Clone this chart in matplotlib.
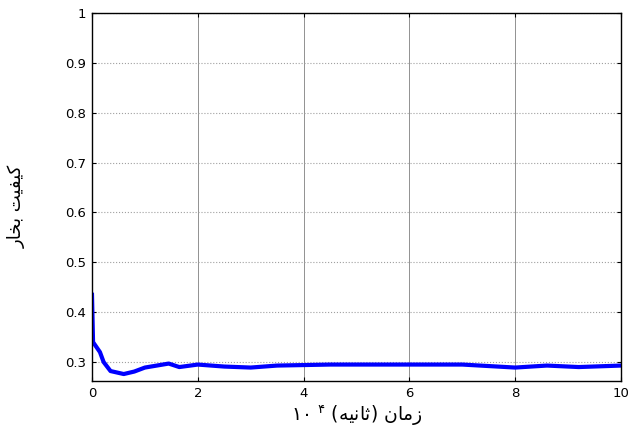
import matplotlib
matplotlib.use("Agg")
import matplotlib.pyplot as plt

# time (x 10^4 s) and vapour quality
time_vals = [0, 0.02, 0.15, 0.22, 0.35, 0.6, 0.8, 1.0, 1.45, 1.65, 2.0, 2.5, 3.0,
             3.5, 4.5, 5.5, 7.0, 8.0, 8.6, 9.2, 10]
quality = [0.435, 0.34, 0.32, 0.30, 0.282, 0.276, 0.281, 0.289, 0.297, 0.290, 0.295,
           0.291, 0.289, 0.293, 0.295, 0.295, 0.295, 0.289, 0.293, 0.290, 0.293]
xticks = [0, 2, 4, 6, 8, 10]
yticks = [0.3, 0.4, 0.5, 0.6, 0.7, 0.8, 0.9, 1.0]
ytick_labels = ["0.3", "0.4", "0.5", "0.6", "0.7", "0.8", "0.9", "1"]

# persian labels written in presentation forms, visual order (no shaping in mpl)
ylabel_txt = "\uFEAD\uFE8E\uFEA8\uFE91 \uFE96\uFBFF\uFED4\uFBFF\uFB90"
xlabel_txt = "\u06F1\u06F0 $^{\\mathregular{\u06F4}}$ (\uFEEA\uFBFF\uFEE7\uFE8E\uFE9B) \uFEE5\uFE8E\uFEE3\uFEAF"

plt.rcParams['font.family'] = ['DejaVu Sans']

fig = plt.figure(figsize=(6.31, 4.36), dpi=100)
ax = fig.add_axes([0.1458, 0.1261, 0.8384, 0.8441])

ax.plot(time_vals, quality, color=(0, 0, 1), lw=3, solid_joinstyle='round')

ax.set_xlim(0, 10)
ax.set_ylim(0.262, 1.0)
ax.set_xticks(xticks)
ax.set_yticks(yticks)
ax.set_yticklabels(ytick_labels)
ax.tick_params(direction='in', length=3, width=0.8, labelsize=9.5,
               top=True, right=True, pad=4)

# MATLAB-ish grid: solid verticals, dotted horizontals
ax.xaxis.grid(True, color='#808080', lw=0.6, ls='-')
ax.yaxis.grid(True, color='#a0a0a0', lw=0.8, ls=':')
for s in ax.spines.values():
    s.set_linewidth(1.0)

ax.set_ylabel(ylabel_txt, fontsize=13)
ax.yaxis.set_label_coords(-0.125, 0.475)
ax.set_xlabel(xlabel_txt, fontsize=13.5, labelpad=2)

fig.savefig("out.png", dpi=100)
